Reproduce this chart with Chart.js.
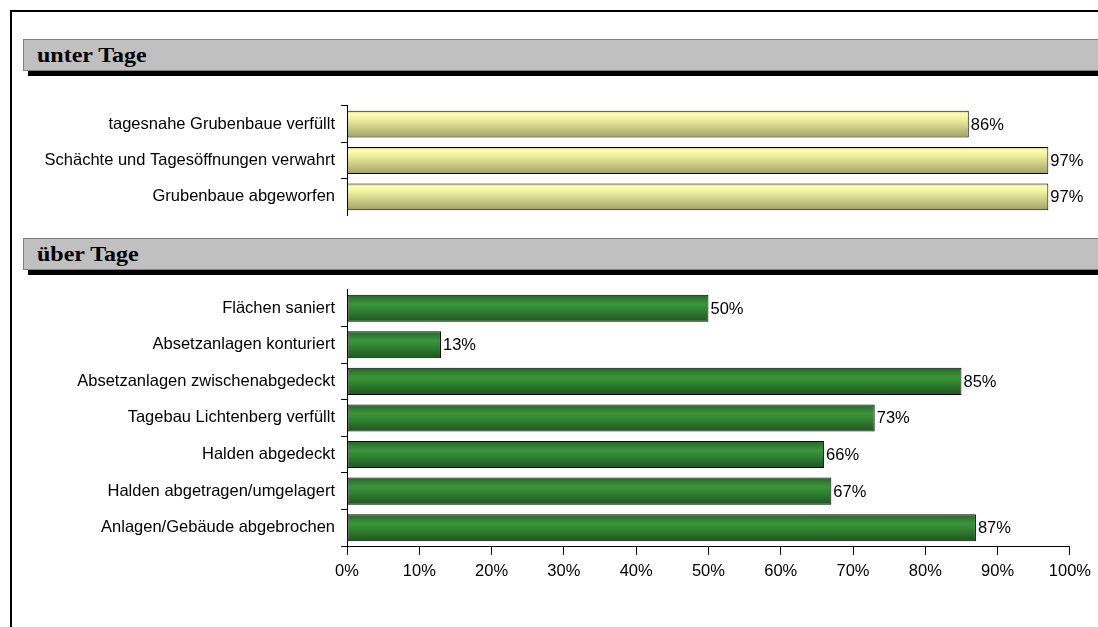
<!DOCTYPE html>
<html>
<head>
<meta charset="utf-8">
<script src="https://cdn.jsdelivr.net/npm/chart.js@4/dist/chart.umd.min.js"></script>
<style>
    body { margin: 0; background: #fff; width: 1098px; height: 627px; overflow: hidden; position: relative; }
    .frame { position: absolute; left: 10px; top: 10px; width: 1100px; height: 640px; border-top: 2px solid #000; border-left: 2px solid #000; }
    .head { position: absolute; left: 23px; width: 1100px; height: 30px; background: #c0c0c0; border: 1px solid #808080;
            box-shadow: 5px 5px 0 #000; font: bold 20px 'Liberation Serif', serif; line-height: 30px; padding-left: 13px; box-sizing: content-box; }
    .head span { display: inline-block; transform: scaleX(1.2); transform-origin: left center; }
    canvas { position: absolute; left: 0; }
</style>
</head>
<body>
<div class="frame"></div>
<div class="head" style="top:39px"><span>unter Tage</span></div>
<div class="head" style="top:238px"><span>über Tage</span></div>
<canvas id="chartUnter" width="1098" height="141" style="top:90px"></canvas>
<canvas id="chartUeber" width="1098" height="353" style="top:274px"></canvas>
<script>
const unterLabels = ['tagesnahe Grubenbaue verfüllt', 'Schächte und Tagesöffnungen verwahrt', 'Grubenbaue abgeworfen'];
const unterValues = [86, 97, 97];

const ueberLabels = ['Flächen saniert', 'Absetzanlagen konturiert', 'Absetzanlagen zwischenabgedeckt',
    'Tagebau Lichtenberg verfüllt', 'Halden abgedeckt', 'Halden abgetragen/umgelagert', 'Anlagen/Gebäude abgebrochen'];
const ueberValues = [50, 13, 85, 73, 66, 67, 87];

const yellowStops = [[0, '#c8c880'], [0.12, '#ffffb4'], [0.35, '#ecec9c'], [1, '#a0a068']];
const greenStops = [[0, '#28662a'], [0.35, '#3a963a'], [0.6, '#2f7f30'], [1, '#1d561e']];

Chart.defaults.font.family = "'Liberation Sans', Arial, sans-serif";
Chart.defaults.font.size = 16.5;
Chart.defaults.color = '#000';

// paints each bar with its own vertical gradient and writes the value beside it
const barPaint = {
    id: 'barPaint',
    beforeDatasetsDraw(chart) {
        const c = chart.ctx;
        const stops = chart.options.plugins.barPaint.stops;
        chart.getDatasetMeta(0).data.forEach(el => {
            const top = el.y - el.height / 2;
            const g = c.createLinearGradient(0, top, 0, top + el.height);
            stops.forEach(s => g.addColorStop(s[0], s[1]));
            // options can be shared & frozen, so give each bar its own copy
            el.options = Object.assign({}, el.options, { backgroundColor: g });
        });
    },
    afterDatasetsDraw(chart) {
        const c = chart.ctx;
        const vals = chart.data.datasets[0].data;
        c.save();
        c.font = "16.5px 'Liberation Sans', Arial, sans-serif";
        c.fillStyle = '#000';
        c.textBaseline = 'middle';
        chart.getDatasetMeta(0).data.forEach((el, i) => {
            c.fillText(vals[i] + '%', el.x + 2, el.y + 1);
        });
        c.restore();
    }
};

// the last boundary line has no tick context, so its index is undefined
function tickColor(hide) {
    return ctx => {
        const isLast = ctx.index === undefined;
        if ((hide === 'first' && ctx.index === 0) || (hide === 'last' && isLast)) return 'rgba(0,0,0,0)';
        return '#000';
    };
}

function makeChart(id, labels, values, stops, showX, bottomPad, hideTick) {
    return new Chart(document.getElementById(id), {
        type: 'bar',
        data: {
            labels: labels,
            datasets: [{
                data: values,
                backgroundColor: '#ccc',
                borderColor: '#000',
                borderWidth: 1,
                borderSkipped: false,
                barPercentage: 0.74,
                categoryPercentage: 1
            }]
        },
        options: {
            indexAxis: 'y',
            responsive: false,
            animation: false,
            layout: { padding: { top: 10, right: 28, left: 0, bottom: bottomPad } },
            plugins: {
                legend: { display: false },
                tooltip: { enabled: false },
                barPaint: { stops: stops }
            },
            scales: {
                x: {
                    display: showX,
                    min: 0,
                    max: 100,
                    ticks: { stepSize: 10, padding: 7, callback: v => v + '%' },
                    grid: { drawOnChartArea: false, tickLength: 9, color: '#000' },
                    border: { color: '#000' },
                    afterFit: s => { if (showX) s.height = 81; }
                },
                y: {
                    ticks: { padding: 6 },
                    grid: { drawOnChartArea: false, tickLength: 6, color: tickColor(hideTick) },
                    border: { color: '#000' },
                    afterFit: s => { s.width = 347; }
                }
            }
        },
        plugins: [barPaint]
    });
}

makeChart('chartUnter', unterLabels, unterValues, yellowStops, false, 15, 'last');
makeChart('chartUeber', ueberLabels, ueberValues, greenStops, true, 0, 'first');
</script>
</body>
</html>
